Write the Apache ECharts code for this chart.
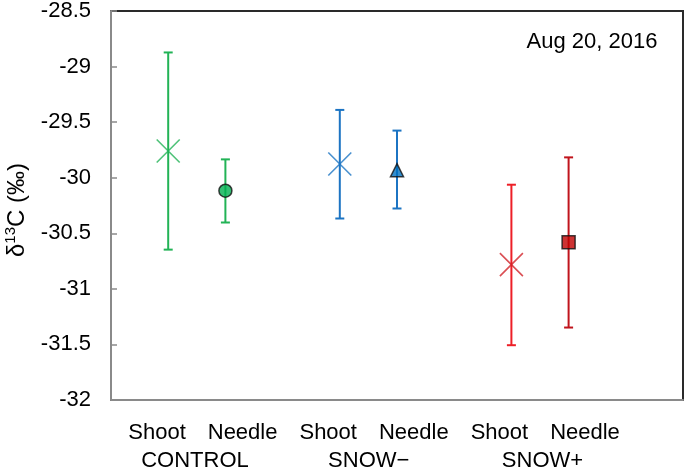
<!DOCTYPE html>
<html>
<head>
<meta charset="utf-8">
<script src="https://cdn.jsdelivr.net/npm/echarts@6/dist/echarts.min.js"></script>
<style>
  html, body { margin: 0; padding: 0; background: #fff; }
  #chart { width: 685px; height: 472px; }
</style>
</head>
<body>
<div id="chart"></div>
<script>
// ---- data ----
const groups = ['CONTROL', 'SNOW\u2212', 'SNOW+'];
const tissues = ['Shoot', 'Needle', 'Shoot', 'Needle', 'Shoot', 'Needle'];
const means = [-29.76, -30.117, -29.877, -29.932, -30.782, -30.581];
const upper = [-28.873, -29.835, -29.39, -29.576, -30.063, -29.817];
const lower = [-30.647, -30.403, -30.367, -30.277, -31.507, -31.348];
const yTicks = [-32, -31.5, -31, -30.5, -30, -29.5, -29, -28.5];
const dateLabel = 'Aug 20, 2016';

// ---- styles ----
const FONT = 'Liberation Sans, Arial, Helvetica, sans-serif';
const barColors = ['#22b356', '#22b356', '#1c74c3', '#1c74c3', '#ed1f27', '#c0141c'];
const crossColors = ['#22b356', '#1c74c3', '#d12228'];
const fillColors = ['#00b050', '#0070c0', '#c00000'];
const needleSymbols = ['circle', 'triangle', 'rect'];

// x position for each point: group*3 + tissue index + 1
const xOf = i => Math.floor(i / 2) * 3 + (i % 2) + 1;

const errData = means.map((m, i) => [xOf(i), lower[i], upper[i], i]);
const markData = means.map((m, i) => {
  const g = Math.floor(i / 2);
  if (i % 2 === 0) {
    return {
      value: [xOf(i), m],
      symbol: 'path://M0,0L10,10M0,10L10,0',
      symbolSize: 23,
      itemStyle: { color: 'none', borderColor: crossColors[g], borderWidth: 1.6 }
    };
  }
  return {
    value: [xOf(i), m],
    symbol: needleSymbols[g],
    symbolSize: 13,
    itemStyle: { color: fillColors[g], borderColor: '#111', borderWidth: 1.5 }
  };
});

const chart = echarts.init(document.getElementById('chart'), null, { renderer: 'canvas' });
chart.setOption({
  animation: false,
  backgroundColor: '#fff',
  textStyle: { fontFamily: FONT },
  grid: [
    { left: 111, right: 2, top: 11, bottom: 72, show: true, borderColor: '#2a2a2a', borderWidth: 2, backgroundColor: 'transparent' },
    { left: 114.2, width: 513.6, top: 11, bottom: 72 },
    { left: 108.1, width: 521.25, top: 11, bottom: 72 }
  ],
  xAxis: [
    { gridIndex: 0, type: 'value', min: 0, max: 10, axisLabel: { show: false }, axisTick: { show: false },
      splitLine: { show: false }, axisLine: { show: true, lineStyle: { color: '#8a8a8a', width: 2 } } },
    { gridIndex: 1, type: 'category', data: tissues, axisLine: { show: false }, axisTick: { show: false },
      axisLabel: { margin: 22, fontSize: 22, color: '#000', fontFamily: FONT, interval: 0 } },
    { gridIndex: 2, type: 'category', data: groups, axisLine: { show: false }, axisTick: { show: false },
      axisLabel: { margin: 52, fontSize: 22, color: '#000', fontFamily: FONT, interval: 0 } }
  ],
  yAxis: [
    { gridIndex: 0, type: 'value', min: -32, max: -28.5, interval: 0.5,
      axisLine: { show: true, lineStyle: { color: '#8a8a8a', width: 2 } },
      axisTick: { show: true, inside: true, length: 6, lineStyle: { color: '#8a8a8a', width: 1.5 } },
      splitLine: { show: false },
      axisLabel: { margin: 20, fontSize: 22, color: '#000', fontFamily: FONT,
        formatter: v => String(v) } },
    { gridIndex: 1, type: 'value', show: false },
    { gridIndex: 2, type: 'value', show: false }
  ],
  series: [
    {
      type: 'custom',
      xAxisIndex: 0, yAxisIndex: 0,
      data: errData,
      z: 2,
      renderItem: function (params, api) {
        const x = api.value(0);
        const lo = api.coord([x, api.value(1)]);
        const hi = api.coord([x, api.value(2)]);
        const idx = api.value(3);
        const c = barColors[idx];
        const hw = 4.5;
        const st = { stroke: c, lineWidth: 2 };
        return {
          type: 'group',
          children: [
            { type: 'line', shape: { x1: lo[0], y1: lo[1], x2: hi[0], y2: hi[1] }, style: st },
            { type: 'line', shape: { x1: lo[0] - hw, y1: lo[1], x2: lo[0] + hw, y2: lo[1] }, style: st },
            { type: 'line', shape: { x1: hi[0] - hw, y1: hi[1], x2: hi[0] + hw, y2: hi[1] }, style: st }
          ]
        };
      }
    },
    {
      type: 'scatter',
      xAxisIndex: 0, yAxisIndex: 0,
      z: 5,
      data: markData
    }
  ],
  graphic: [
    {
      type: 'text',
      x: 592, y: 42,
      style: { text: dateLabel, fontSize: 22, fontFamily: FONT, fill: '#000', textAlign: 'center', textVerticalAlign: 'middle' }
    },
    {
      type: 'text',
      x: 17, y: 210,
      rotation: Math.PI / 2,
      style: {
        text: '{a|\u03b4}{b|13}{a|C (\u2030)}',
        textAlign: 'center', textVerticalAlign: 'middle',
        fontFamily: FONT,
        rich: {
          a: { fontSize: 24, fontFamily: FONT, fill: '#000', lineHeight: 28 },
          b: { fontSize: 15, fontFamily: FONT, fill: '#000', verticalAlign: 'top', lineHeight: 20 }
        }
      }
    }
  ]
});
</script>
</body>
</html>
